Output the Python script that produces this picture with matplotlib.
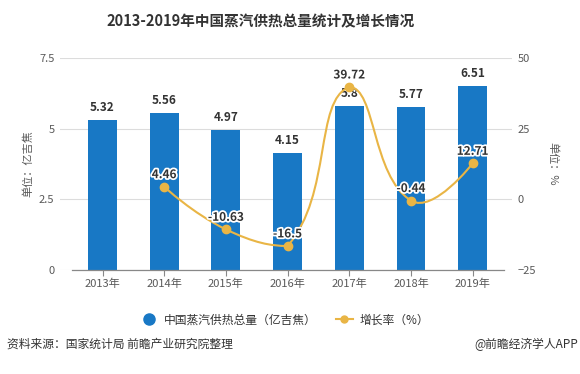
import numpy as np
import matplotlib
matplotlib.use('Agg')
from matplotlib import pyplot as plt
from matplotlib.path import Path
from matplotlib.patches import PathPatch
from matplotlib.lines import Line2D
import matplotlib.patheffects as pe

plt.rcParams['font.family'] = ['Noto Sans CJK SC', 'DejaVu Sans']

years = ['2013年', '2014年', '2015年', '2016年', '2017年', '2018年', '2019年']
supply = [5.32, 5.56, 4.97, 4.15, 5.8, 5.77, 6.51]
growth_idx = [1, 2, 3, 4, 5, 6]
growth = [4.46, -10.63, -16.5, 39.72, -0.44, 12.71]

BAR_COLOR = '#1878c5'
LINE_COLOR = '#e9b545'
TXT = '#333333'
AX_TXT = '#595959'

fig = plt.figure(figsize=(5.8, 3.74), dpi=100)
ax = fig.add_axes([60/580, 1-270/374, (512-60)/580, 212/374])
ax2 = ax.twinx()

x = np.arange(len(years))
ax.bar(x, supply, width=0.47, color=BAR_COLOR, zorder=2)
for xi, v in zip(x, supply):
    ax.annotate(f'{v:g}', (xi, v), xytext=(0, 4), textcoords='offset points',
                ha='center', va='bottom', fontsize=8.5, fontweight='bold', color=TXT, zorder=5)

ax.set_xlim((60-102.5)/61.7, (512-102.5)/61.7)
ax.set_ylim(0, 7.5)
ax.set_yticks([0, 2.5, 5, 7.5])
ax.set_yticklabels(['0', '2.5', '5', '7.5'])
ax2.set_ylim(-25, 50)
ax2.set_yticks([-25, 0, 25, 50])

for a in (ax, ax2):
    for s in a.spines.values():
        s.set_visible(False)
    a.tick_params(axis='y', length=0, labelsize=8, labelcolor=AX_TXT, pad=4)
ax.grid(axis='y', color='#dcdcdc', linewidth=0.8, zorder=0)
ax.set_axisbelow(True)
ax.set_xticks(x)
ax.set_xticklabels(years)
ax.tick_params(axis='x', length=4, color='#888888', labelsize=8, labelcolor=AX_TXT, pad=2)
ax.plot([-0.5, 6.5], [0, 0], color='#888888', linewidth=0.9, zorder=3, clip_on=False)

ax.set_ylabel('单位：亿吉焦', fontsize=8, color=AX_TXT, labelpad=4)
ax2.set_ylabel('单位：%', fontsize=8, color=AX_TXT, rotation=-90, labelpad=16)

# smooth line like echarts: control points in pixel space, clamped to the data bbox
pts = ax2.transData.transform(np.column_stack([growth_idx, growth]))
lo = pts.min(axis=0)
hi = pts.max(axis=0)
smooth = 0.5
cps = []
for i in range(len(pts)):
    if i == 0 or i == len(pts) - 1:
        cps.append((pts[i], pts[i]))
        continue
    v = (pts[i+1] - pts[i-1]) * smooth
    d0 = np.linalg.norm(pts[i] - pts[i-1])
    d1 = np.linalg.norm(pts[i+1] - pts[i])
    tot = d0 + d1
    c0 = np.clip(pts[i] - v * d0 / tot, lo, hi)
    c1 = np.clip(pts[i] + v * d1 / tot, lo, hi)
    cps.append((c0, c1))
verts = [pts[0]]
codes = [Path.MOVETO]
for i in range(len(pts) - 1):
    verts += [cps[i][1], cps[i+1][0], pts[i+1]]
    codes += [Path.CURVE4] * 3
verts = ax2.transData.inverted().transform(np.array(verts))
ax2.add_patch(PathPatch(Path(verts, codes), facecolor='none', edgecolor=LINE_COLOR,
                        linewidth=1.5, zorder=3))
ax2.plot(growth_idx, growth, 'o', color=LINE_COLOR, markersize=6, zorder=4)
for xi, v in zip(growth_idx, growth):
    ax2.annotate(f'{v:g}', (xi, v), xytext=(0, 4), textcoords='offset points',
                 ha='center', va='bottom', fontsize=8.5, fontweight='bold', color=TXT, zorder=6,
                 path_effects=[pe.withStroke(linewidth=2.5, foreground='white')])

fig.text(261/580, 1-21/374, '2013-2019年中国蒸汽供热总量统计及增长情况', ha='center', va='center',
         fontsize=10.5, fontweight='bold', color=TXT)

handles = [Line2D([], [], marker='o', linestyle='none', color=BAR_COLOR, markersize=8),
           Line2D([], [], marker='o', color=LINE_COLOR, markersize=5, linewidth=1.5)]
fig.legend(handles, ['中国蒸汽供热总量（亿吉焦）', '增长率（%）'], loc='center',
           bbox_to_anchor=(285/580, 1-320/374), ncol=2, frameon=False, fontsize=8.5,
           handlelength=1.4, columnspacing=1.6, handletextpad=0.6, labelcolor=TXT)

fig.text(7/580, 1-344/374, '资料来源：国家统计局 前瞻产业研究院整理', ha='left', va='center',
         fontsize=8.5, color=TXT)
fig.text(578/580, 1-344/374, '@前瞻经济学人APP', ha='right', va='center', fontsize=8.5, color=TXT)

fig.savefig('out.png', dpi=100)
